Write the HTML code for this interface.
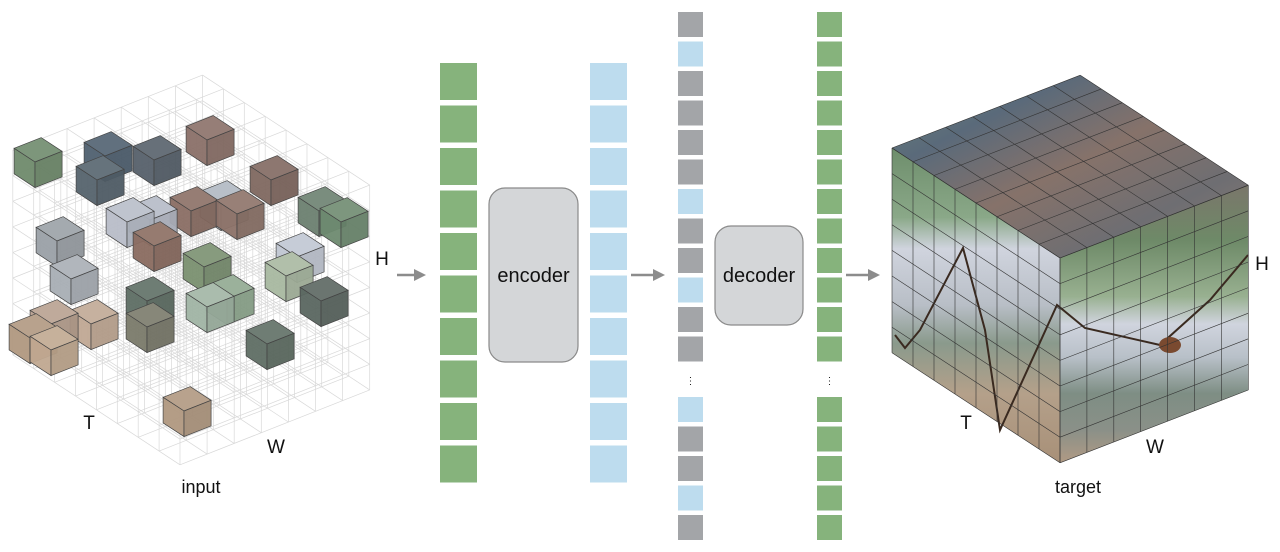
<!DOCTYPE html>
<html><head><meta charset="utf-8"><style>
html,body{margin:0;padding:0;background:#fff;}
svg{display:block;font-family:"Liberation Sans",Arial,sans-serif;}
</style></head><body>
<svg id="s" width="1280" height="552" viewBox="0 0 1280 552" xmlns="http://www.w3.org/2000/svg">
<defs>
<linearGradient id="gTop" x1="0" y1="0" x2="1" y2="1">
<stop offset="0" stop-color="#6a8478"/><stop offset="0.25" stop-color="#5a6a7a"/><stop offset="0.5" stop-color="#86726a"/><stop offset="0.75" stop-color="#6e6e72"/><stop offset="1" stop-color="#8e7a70"/></linearGradient>
<linearGradient id="gLeft" x1="0" y1="0" x2="0" y2="1">
<stop offset="0" stop-color="#6e8e6c"/><stop offset="0.22" stop-color="#8aa888"/><stop offset="0.32" stop-color="#d0d4de"/><stop offset="0.5" stop-color="#b8bec6"/><stop offset="0.62" stop-color="#8a9a8c"/><stop offset="0.78" stop-color="#b4a08a"/><stop offset="1" stop-color="#a89078"/></linearGradient>
<linearGradient id="gRight" x1="0" y1="0" x2="0" y2="1">
<stop offset="0" stop-color="#7a766a"/><stop offset="0.2" stop-color="#6e8a68"/><stop offset="0.4" stop-color="#98b090"/><stop offset="0.5" stop-color="#d0d4de"/><stop offset="0.62" stop-color="#b8c0c8"/><stop offset="0.75" stop-color="#7e8e84"/><stop offset="0.88" stop-color="#8a9088"/><stop offset="1" stop-color="#b09a84"/></linearGradient>
</defs>
<g id="inp"></g>
<g id="tgt"></g>
<g id="cols"></g>
<g fill="#d4d6d8" stroke="#8a8a8a" stroke-width="1.2">
<rect x="489" y="188" width="89" height="174" rx="16"/>
<rect x="715" y="226" width="88" height="99" rx="16"/>
</g>
<g font-size="20" fill="#111" text-anchor="middle">
<text x="533.5" y="282">encoder</text>
<text x="759" y="282">decoder</text>
</g>
<g stroke="#8c8c8c" stroke-width="2.5" fill="#8c8c8c">
<line x1="397" y1="275" x2="416" y2="275"/><path d="M426 275 L414 269 L414 281 Z" stroke="none"/>
<line x1="631" y1="275" x2="655" y2="275"/><path d="M665 275 L653 269 L653 281 Z" stroke="none"/>
<line x1="846" y1="275" x2="870" y2="275"/><path d="M880 275 L868 269 L868 281 Z" stroke="none"/>
</g>
<g font-size="19" fill="#111" text-anchor="middle">
<text x="382" y="265">H</text>
<text x="89" y="429">T</text>
<text x="276" y="453">W</text>
<text x="201" y="493" font-size="18">input</text>
<text x="1262" y="270">H</text>
<text x="966" y="429">T</text>
<text x="1155" y="453">W</text>
<text x="1078" y="493" font-size="18">target</text>
</g>
<g fill="#222" font-size="10" text-anchor="middle">
<text x="690.5" y="384">⋮</text>
<text x="829.5" y="384">⋮</text>
</g>
</svg>
<script>
var NS="http://www.w3.org/2000/svg";
function el(p,t,a){var e=document.createElementNS(NS,t);for(var k in a)e.setAttribute(k,a[k]);p.appendChild(e);return e;}
var cols=document.getElementById("cols");
for(var i=0;i<10;i++){
 el(cols,"rect",{x:440,y:63+42.5*i,width:37,height:37,fill:"#86b37c"});
 el(cols,"rect",{x:590,y:63+42.5*i,width:37,height:37,fill:"#bddcee"});
}
var pat="GBGGGGBGGBGG";
for(var i=0;i<12;i++){
 el(cols,"rect",{x:678,y:12+29.5*i,width:25,height:25,fill:pat[i]=="B"?"#bddcee":"#a3a5a8"});
 el(cols,"rect",{x:817,y:12+29.5*i,width:25,height:25,fill:"#86b37c"});
}
var pat2="BGGBG";
for(var i=0;i<5;i++){
 el(cols,"rect",{x:678,y:397+29.5*i,width:25,height:25,fill:pat2[i]=="B"?"#bddcee":"#a3a5a8"});
 el(cols,"rect",{x:817,y:397+29.5*i,width:25,height:25,fill:"#86b37c"});
}
var inp=document.getElementById("inp");
var F={x:180,y:260},a={x:-20.9,y:-13.75},b={x:27.1,y:-10.7},c={x:0,y:25.6};
function P(o,t,w,h){return [o.x+t*a.x+w*b.x+h*c.x,o.y+t*a.y+w*b.y+h*c.y];}
function line(g,p,q,col,sw){el(g,"line",{x1:p[0],y1:p[1],x2:q[0],y2:q[1],stroke:col,"stroke-width":sw});}
var NT=8,NW=7,NH=8;
for(var w=0;w<=NW;w++)for(var h=0;h<=NH;h++)line(inp,P(F,0,w,h),P(F,NT,w,h),"#d8d8d8",0.7);
for(var t=0;t<=NT;t++)for(var h=0;h<=NH;h++)line(inp,P(F,t,0,h),P(F,t,NW,h),"#d8d8d8",0.7);
for(var t=0;t<=NT;t++)for(var w=0;w<=NW;w++)line(inp,P(F,t,w,0),P(F,t,w,NH),"#d8d8d8",0.7);
function shade(hex,f){var n=parseInt(hex.slice(1),16);var r=n>>16,g=(n>>8)&255,bb=n&255;
 function s(v){v=f>1?v+(255-v)*(f-1):v*f;return Math.max(0,Math.min(255,Math.round(v)));}
 return "rgb("+s(r)+","+s(g)+","+s(bb)+")";}
function cube(x,y,col){var o={x:x,y:y};
 function pts(arr){return arr.map(function(p){return p[0].toFixed(1)+","+p[1].toFixed(1)}).join(" ");}
 el(inp,"polygon",{points:pts([P(o,0,0,0),P(o,1,0,0),P(o,1,1,0),P(o,0,1,0)]),fill:shade(col,1.1),stroke:"#444","stroke-width":0.7});
 el(inp,"polygon",{points:pts([P(o,0,0,0),P(o,1,0,0),P(o,1,0,1),P(o,0,0,1)]),fill:col,stroke:"#444","stroke-width":0.7,"fill-opacity":0.95});
 el(inp,"polygon",{points:pts([P(o,0,0,0),P(o,0,1,0),P(o,0,1,1),P(o,0,0,1)]),fill:shade(col,0.92),stroke:"#444","stroke-width":0.7,"fill-opacity":0.95});
}
var cubes=[[35,162,"#6f8a6c"],[105,156,"#4f6070"],[154,160,"#56606a"],[207,140,"#8a7068"],[97,180,"#55636d"],[271,180,"#806860"],
[127,222,"#b8bdc8"],[150,220,"#b4bac6"],[221,205,"#b0b8c2"],[191,211,"#8a6e64"],[237,214,"#8c7268"],[319,211,"#6b8070"],[341,222,"#6e8a70"],
[57,241,"#9aa0a6"],[204,267,"#7a9070"],[154,246,"#8a6c60"],[297,257,"#c0c6d2"],[71,279,"#a8aeb4"],[147,301,"#5e6e64"],[147,327,"#7a7a6a"],
[227,299,"#90a890"],[207,307,"#a0b4a4"],[286,276,"#a8b8a0"],[321,301,"#5a6660"],[91,324,"#c0a894"],[30,338,"#b09880"],[51,324,"#b8a090"],[51,350,"#c0a890"],
[267,344,"#5f6e64"],[184,411,"#b09880"]];
cubes.sort(function(p,q){return p[1]-q[1];});
cubes.forEach(function(c){cube(c[0],c[1],c[2]);});
var tg=document.getElementById("tgt");
var G={x:1060,y:258},ta={x:-21,y:-13.75},tb={x:26.9,y:-10.4},tc={x:0,y:25.6};
function Q(t,w,h){return [G.x+t*ta.x+w*tb.x+h*tc.x,G.y+t*ta.y+w*tb.y+h*tc.y];}
function pts(arr){return arr.map(function(p){return p[0].toFixed(1)+","+p[1].toFixed(1)}).join(" ");}
el(tg,"polygon",{points:pts([Q(0,0,0),Q(8,0,0),Q(8,7,0),Q(0,7,0)]),fill:"url(#gTop)"});
el(tg,"polygon",{points:pts([Q(0,0,0),Q(8,0,0),Q(8,0,8),Q(0,0,8)]),fill:"url(#gLeft)"});
el(tg,"polygon",{points:pts([Q(0,0,0),Q(0,7,0),Q(0,7,8),Q(0,0,8)]),fill:"url(#gRight)"});
el(tg,"polyline",{points:"895,335 905,348 920,330 963,248 985,330 1000,430 1057,305 1085,328 1160,345 1210,300 1248,255",fill:"none",stroke:"#3a2a20","stroke-width":2});
el(tg,"ellipse",{cx:1170,cy:345,rx:11,ry:8,fill:"#7a4a30"});
for(var t=0;t<=8;t++){line(tg,Q(t,0,0),Q(t,7,0),"#333",0.6);line(tg,Q(t,0,0),Q(t,0,8),"#333",0.6);}
for(var w=0;w<=7;w++){line(tg,Q(0,w,0),Q(8,w,0),"#333",0.6);line(tg,Q(0,w,0),Q(0,w,8),"#333",0.6);}
for(var h=0;h<=8;h++){line(tg,Q(0,0,h),Q(8,0,h),"#333",0.6);line(tg,Q(0,0,h),Q(0,7,h),"#333",0.6);}
</script>
</body></html>
